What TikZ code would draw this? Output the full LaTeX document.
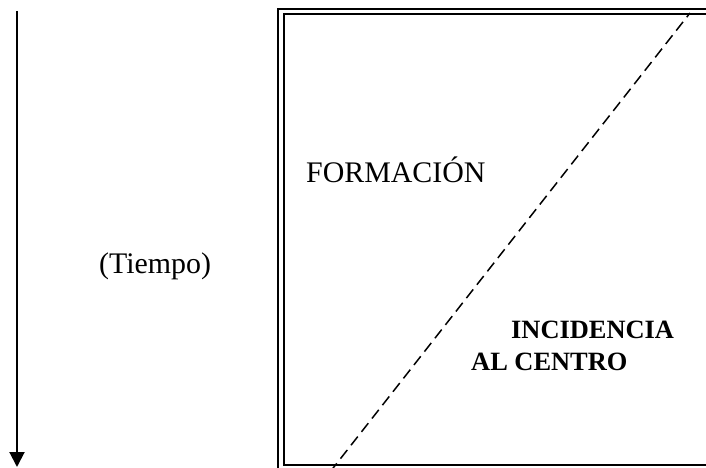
\documentclass[tikz,border=0pt]{standalone}
\usepackage{fontspec}
\setmainfont{Liberation Serif}
\usetikzlibrary{arrows.meta}
\begin{document}
\begin{tikzpicture}[x=1bp,y=-1bp,
  lbl/.style={inner sep=0pt,anchor=base west,font=\fontsize{30}{34}\selectfont},
  blbl/.style={inner sep=0pt,anchor=base west,font=\fontsize{26.5}{31}\selectfont\bfseries},
  frame/.style={draw,double,double distance=3.5bp,line width=2bp},
  diag/.style={draw,line width=1.5bp,dash pattern=on 11bp off 6bp},
  timearrow/.style={draw,line width=2bp,-{Triangle[width=15bp,length=15bp]}}]
\useasboundingbox (0,0) rectangle (706,468);
\clip (0,0) rectangle (706,468);
% time arrow
\coordinate (atop) at (17,11);
\coordinate (abot) at (17,467);
\draw[timearrow] (atop) -- (abot);
% frame
\coordinate (fa) at (281,11.5);
\coordinate (fb) at (716,467.75);
\path[frame] (fa) rectangle (fb);
% diagonal
\coordinate (dbot) at (330,472);
\coordinate (dtop) at (690,13);
\path[diag] (dbot) -- (dtop);
% labels
\node[lbl] (form) at (306,183) {FORMACIÓN};
\node[lbl] (tiempo) at (99,274) {(Tiempo)};
\node[blbl] (inc) at (511,339) {INCIDENCIA};
\node[blbl] (alc) at (471,370) {AL CENTRO};
\end{tikzpicture}
\end{document}
